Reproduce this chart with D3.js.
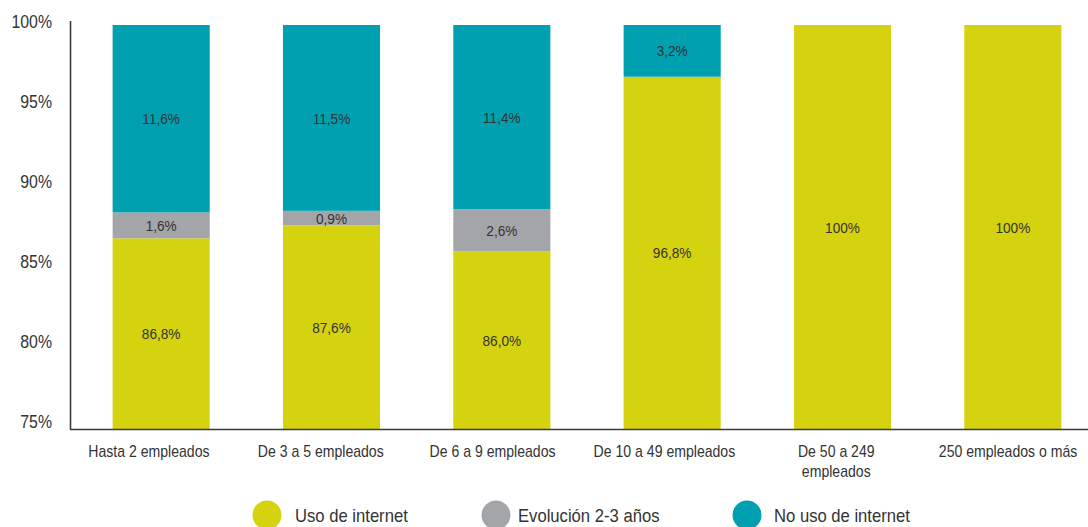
<!DOCTYPE html>
<html><head><meta charset="utf-8">
<script src="https://cdn.jsdelivr.net/npm/d3@7"></script>
<style>
body{margin:0;background:#fff;}
text{font-family:"Liberation Sans",Arial,sans-serif;fill:#333;}
</style></head>
<body><svg id="c" width="1088" height="527"></svg>
<script>
const categories = ["Hasta 2 empleados","De 3 a 5 empleados","De 6 a 9 empleados","De 10 a 49 empleados","De 50 a 249 empleados","250 empleados o más"];
const categoryLines = [["Hasta 2 empleados"],["De 3 a 5 empleados"],["De 6 a 9 empleados"],["De 10 a 49 empleados"],["De 50 a 249","empleados"],["250 empleados o más"]];
const usoInternet = [86.8, 87.6, 86.0, 96.8, 100, 100];
const evolucion = [1.6, 0.9, 2.6, 0, 0, 0];
const noUsoInternet = [11.6, 11.5, 11.4, 3.2, 0, 0];
const usoLabels = ["86,8%","87,6%","86,0%","96,8%","100%","100%"];
const evolLabels = ["1,6%","0,9%","2,6%","","",""];
const noUsoLabels = ["11,6%","11,5%","11,4%","3,2%","",""];
const yTicks = [75, 80, 85, 90, 95, 100];
const seriesNames = ["Uso de internet","Evolución 2-3 años","No uso de internet"];
const colors = ["#d5d20f","#a4a5a9","#00a0b0"];

const SX = 0.88; // horizontal compression to mimic a condensed face
const svg = d3.select("#c");
const x = d3.scaleBand().domain(categories).range([76, 1098]).paddingInner(0.43).paddingOuter(0.215);
const xLab = d3.scaleBand().domain(categories).range([63, 1094]);
const y = d3.scaleLinear().domain([75, 100]).range([429, 25]);

const rows = categories.map((c,i)=>({cat:c, uso:usoInternet[i], evol:evolucion[i], no:noUsoInternet[i]}));
const stack = d3.stack().keys(["uso","evol","no"])(rows);
const labelSets = [usoLabels, evolLabels, noUsoLabels];

stack.forEach((layer, li) => {
  const g = svg.append("g");
  g.selectAll("rect").data(layer).join("rect")
    .attr("x", d => x(d.data.cat))
    .attr("width", x.bandwidth())
    .attr("y", d => y(Math.min(100, d[1])))
    .attr("height", d => Math.max(0, y(Math.max(75, d[0])) - y(Math.min(100, d[1]))))
    .attr("fill", colors[li]);
  const items = layer.map((d,i)=>({d, lab: labelSets[li][i]})).filter(o => o.lab !== "");
  g.selectAll("text").data(items).join("text")
    .attr("transform", o => `translate(${x(o.d.data.cat) + x.bandwidth()/2},${(y(Math.max(75, o.d[0])) + y(Math.min(100, o.d[1])))/2}) scale(${SX},1)`)
    .attr("dy", "0.36em")
    .attr("text-anchor", "middle")
    .attr("font-size", 15.5)
    .text(o => o.lab);
});

// axes lines
svg.append("line").attr("x1",70.5).attr("x2",70.5).attr("y1",y(100)-4).attr("y2",y(75)+0.5)
  .attr("stroke","#3a3a3a").attr("stroke-width",1.6);
svg.append("line").attr("x1",70).attr("x2",1088).attr("y1",y(75)+0.5).attr("y2",y(75)+0.5)
  .attr("stroke","#3a3a3a").attr("stroke-width",1.6);
const tickLabelY = d3.scaleLinear().domain([75,100]).range([422, 22]);
svg.append("g").selectAll("text").data(yTicks).join("text")
  .attr("transform", d => `translate(52,${tickLabelY(d)}) scale(${SX},1)`)
  .attr("dy","0.36em")
  .attr("text-anchor","end").attr("font-size",18)
  .text(d => d + "%");

// x labels
const xl = svg.append("g").selectAll("text").data(categories).join("text")
  .attr("transform", d => `translate(${xLab(d) + xLab.bandwidth()/2},457) scale(${SX},1)`)
  .attr("text-anchor","middle").attr("font-size",16);
xl.each(function(d,i){
  const t = d3.select(this);
  categoryLines[i].forEach((ln,j)=>{
    t.append("tspan").attr("x", 0).attr("dy", j===0?0:"1.28em").text(ln);
  });
});

// legend
const legendCircleX = [267, 496, 747];
const legendTextX = [295, 518, 774];
const lg = svg.append("g").selectAll("g").data(seriesNames).join("g");
lg.append("circle").attr("cx",(d,i)=>legendCircleX[i]).attr("cy",515).attr("r",14.5).attr("fill",(d,i)=>colors[i]);
lg.append("text").attr("transform",(d,i)=>`translate(${legendTextX[i]},515) scale(0.9,1)`).attr("dy","0.36em").attr("font-size",18.5).text(d=>d);
</script></body></html>
